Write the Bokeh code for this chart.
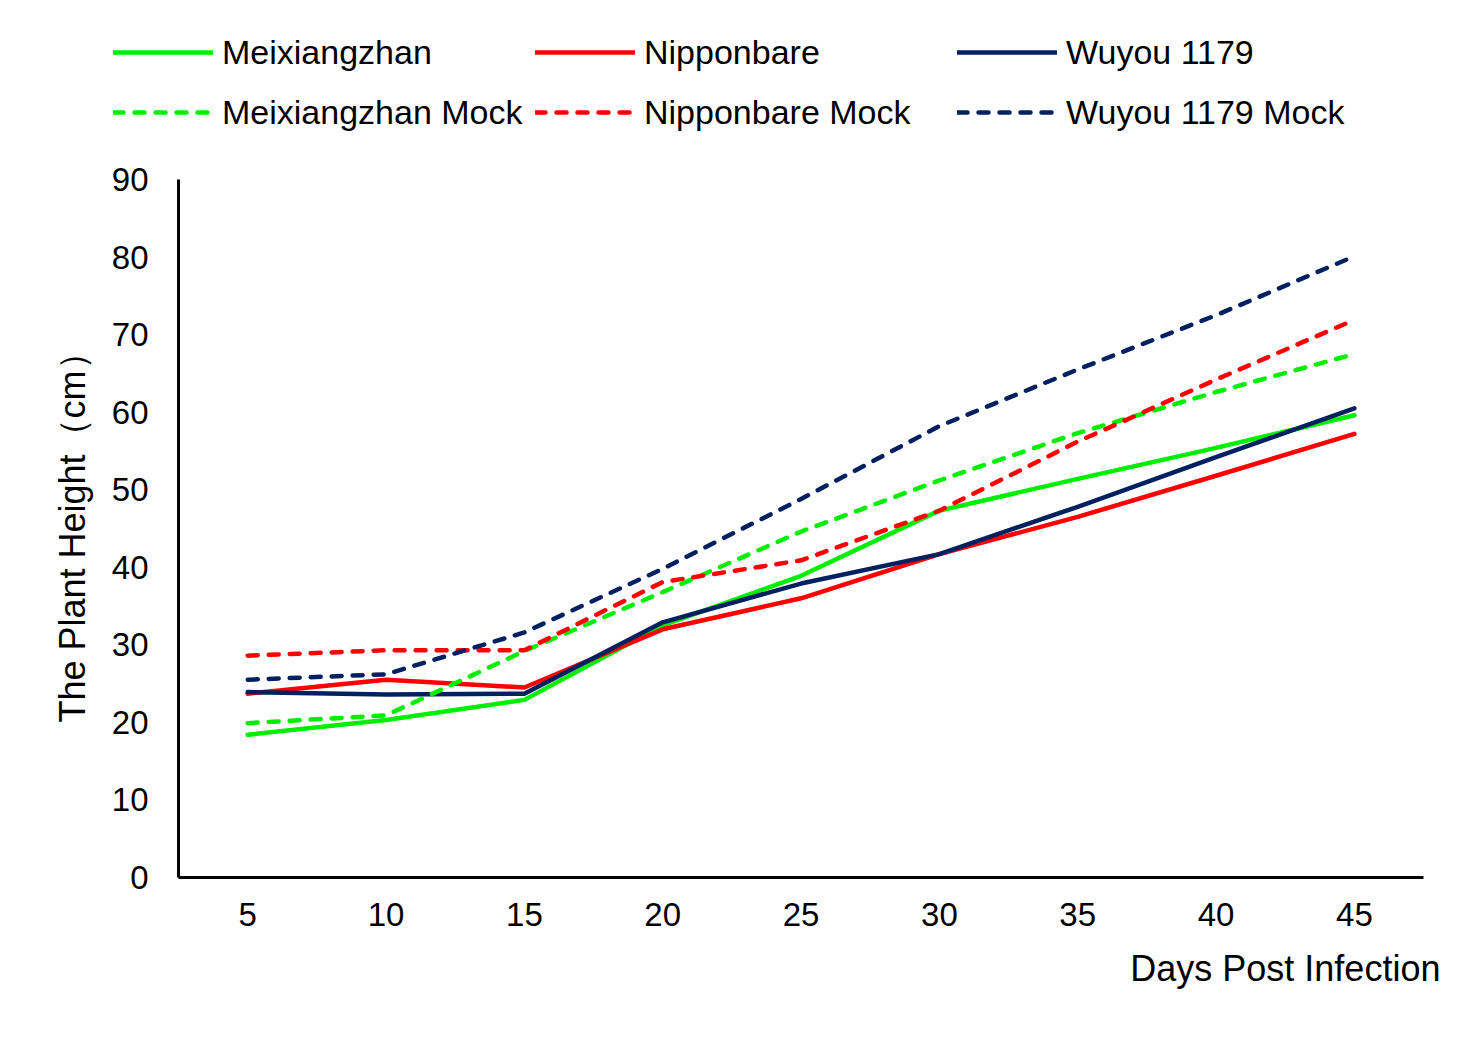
from bokeh.plotting import figure
from bokeh.models import Legend, LegendItem, Range1d, FixedTicker, Label
from bokeh.embed import file_html
from bokeh.resources import INLINE

days = [5, 10, 15, 20, 25, 30, 35, 40, 45]
meixiangzhan = [18.4, 20.3, 22.9, 32.5, 38.9, 47.3, 51.4, 55.4, 59.6]
nipponbare = [23.7, 25.5, 24.5, 32.0, 36.0, 41.7, 46.5, 51.8, 57.2]
wuyou = [23.9, 23.6, 23.7, 32.9, 37.9, 41.7, 47.8, 54.2, 60.5]
meixiangzhan_mock = [19.9, 20.9, 29.2, 36.8, 44.6, 51.2, 57.3, 62.6, 67.5]
nipponbare_mock = [28.6, 29.3, 29.3, 38.1, 40.9, 47.3, 56.2, 64.2, 71.9]
wuyou_mock = [25.5, 26.2, 31.6, 39.8, 48.8, 58.2, 65.5, 72.5, 80.1]
y_ticks = [0, 10, 20, 30, 40, 50, 60, 70, 80, 90]

GREEN = "#00EE00"
RED = "#FF0000"
NAVY = "#002060"
FONT = "Liberation Sans"
LW = 4.5
DASH = "10 11"

series = [
    ("Meixiangzhan", meixiangzhan, GREEN, "solid"),
    ("Nipponbare", nipponbare, RED, "solid"),
    ("Wuyou 1179", wuyou, NAVY, "solid"),
    ("Meixiangzhan Mock", meixiangzhan_mock, GREEN, DASH),
    ("Nipponbare Mock", nipponbare_mock, RED, DASH),
    ("Wuyou 1179 Mock", wuyou_mock, NAVY, DASH),
]

# frame: x from 40px to 1451px, y from 0px to 1022px
# data: x 5 -> 247px, 45 -> 1356px ; y 0 -> 877px, 90 -> 179px
p = figure(width=1451, height=1022, output_backend="svg", toolbar_location=None,
           x_range=Range1d(-2.49, 48.51), y_range=Range1d(-18.70, 113.08),
           min_border_left=40, min_border_right=0, min_border_top=0,
           min_border_bottom=0)
p.outline_line_color = None
p.grid.visible = False

items = []
for name, vals, col, dash in series:
    r = p.line(days, vals, line_color=col, line_width=LW, line_dash=dash,
               line_cap="round", line_join="round")
    items.append(LegendItem(label=name, renderers=[r]))

for ax in (p.xaxis[0], p.yaxis[0]):
    ax.axis_line_color = "black"
    ax.axis_line_width = 3
    ax.major_tick_line_color = None
    ax.minor_tick_line_color = None
    ax.major_label_text_font = FONT
    ax.major_label_text_font_size = "33px"
    ax.major_label_text_color = "black"

p.xaxis.ticker = FixedTicker(ticks=days)
p.xaxis.bounds = (2.5, 47.5)
p.xaxis.fixed_location = 0
p.yaxis.ticker = FixedTicker(ticks=y_ticks)
p.yaxis.bounds = (0, 90)
p.yaxis.fixed_location = 2.5
p.xaxis.major_label_standoff = 20
p.yaxis.major_label_standoff = 24

p.yaxis.axis_label = "The Plant Height（cm）"
p.yaxis.axis_label_text_font = FONT
p.yaxis.axis_label_text_font_size = "36px"
p.yaxis.axis_label_text_font_style = "normal"
p.yaxis.axis_label_text_color = "black"
p.yaxis.axis_label_standoff = 16

xtitle = Label(x=48.11, y=-11.73, text="Days Post Infection", text_align="right",
               text_baseline="middle", text_font=FONT, text_font_size="36px",
               text_color="black")
p.add_layout(xtitle)

legend = Legend(items=items, orientation="horizontal", ncols=3,
                location=(73, 880), glyph_width=100, glyph_height=60,
                label_height=60, label_width=313, label_standoff=9, spacing=0,
                padding=0, margin=0, border_line_color=None,
                background_fill_alpha=0, label_text_font=FONT,
                label_text_font_size="34px", label_text_color="black")
p.add_layout(legend, "center")

open("out.html", "w").write(file_html(p, INLINE))
